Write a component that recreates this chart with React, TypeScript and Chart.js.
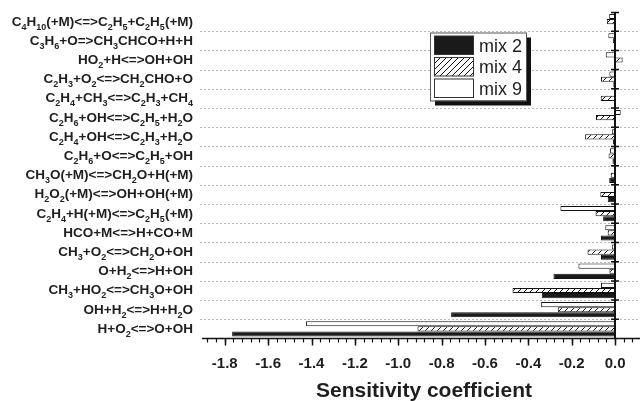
import React, { useEffect, useRef } from "react";
import { Chart, registerables } from "chart.js";

Chart.register(...registerables);

// Reactions, top to bottom ("_n" marks a subscript)
const reactions: string[] = [
  "C_4H_10(+M)<=>C_2H_5+C_2H_5(+M)",
  "C_3H_6+O=>CH_3CHCO+H+H",
  "HO_2+H<=>OH+OH",
  "C_2H_3+O_2<=>CH_2CHO+O",
  "C_2H_4+CH_3<=>C_2H_3+CH_4",
  "C_2H_6+OH<=>C_2H_5+H_2O",
  "C_2H_4+OH<=>C_2H_3+H_2O",
  "C_2H_6+O<=>C_2H_5+OH",
  "CH_3O(+M)<=>CH_2O+H(+M)",
  "H_2O_2(+M)<=>OH+OH(+M)",
  "C_2H_4+H(+M)<=>C_2H_5(+M)",
  "HCO+M<=>H+CO+M",
  "CH_3+O_2<=>CH_2O+OH",
  "O+H_2<=>H+OH",
  "CH_3+HO_2<=>CH_3O+OH",
  "OH+H_2<=>H+H_2O",
  "H+O_2<=>O+OH",
];

const mix2: number[] = [
  -0.004, -0.005, -0.003, -0.008, -0.005, -0.005, -0.01, -0.012, -0.027,
  -0.034, -0.055, -0.065, -0.065, -0.284, -0.338, -0.756, -1.766,
];
const mix4: number[] = [
  -0.038, -0.01, 0.035, -0.065, -0.066, -0.088, -0.138, -0.03, -0.02,
  -0.068, -0.09, -0.034, -0.127, -0.026, -0.473, -0.264, -0.911,
];
const mix9: number[] = [
  -0.027, -0.031, -0.043, -0.026, -0.004, 0.026, -0.015, -0.023, -0.005,
  -0.004, -0.252, -0.045, -0.015, -0.169, -0.065, -0.341, -1.425,
];

const xTickValues: number[] = [-1.8, -1.6, -1.4, -1.2, -1.0, -0.8, -0.6, -0.4, -0.2, 0.0];
const xMin = -1.905;
const xMax = 0.115;
const minorStep = 0.04;
const xTitle = "Sensitivity coefficient";
const legendNames: string[] = ["mix 2", "mix 4", "mix 9"];

const FONT = "'Liberation Sans', Arial, Helvetica, sans-serif";
const TEXT = "#1e1e1e";

function makeHatch(): CanvasPattern | string {
  const c = document.createElement("canvas");
  const s = 6;
  c.width = s;
  c.height = s;
  const g = c.getContext("2d");
  if (!g) return "#888";
  g.fillStyle = "#ffffff";
  g.fillRect(0, 0, s, s);
  g.strokeStyle = "#111111";
  g.lineWidth = 1;
  g.beginPath();
  g.moveTo(0, s);
  g.lineTo(s, 0);
  g.moveTo(-1, 1);
  g.lineTo(1, -1);
  g.moveTo(s - 1, s + 1);
  g.lineTo(s + 1, s - 1);
  g.stroke();
  const p = g.createPattern(c, "repeat");
  return p || "#888";
}

function segments(label: string): { t: string; sub: boolean }[] {
  const out: { t: string; sub: boolean }[] = [];
  const re = /_(\d+)|[^_]+/g;
  let m: RegExpExecArray | null;
  while ((m = re.exec(label)) !== null) {
    if (m[1] !== undefined) out.push({ t: m[1], sub: true });
    else out.push({ t: m[0], sub: false });
  }
  return out;
}

export default function App() {
  const ref = useRef<HTMLCanvasElement | null>(null);

  useEffect(() => {
    const canvas = ref.current;
    if (!canvas) return;
    const hatch = makeHatch();

    const mainFont = `bold 13.5px ${FONT}`;
    const subFont = `bold 9px ${FONT}`;

    const plugin = {
      id: "sensDecor",
      beforeDatasetsDraw(chart: any) {
        const { ctx, scales } = chart;
        const y = scales.y;
        const n = reactions.length;
        ctx.save();
        // dashed gridlines at category boundaries
        ctx.strokeStyle = "#b8b8b8";
        ctx.lineWidth = 1;
        ctx.setLineDash([2, 2]);
        ctx.beginPath();
        for (let k = 1; k < n; k++) {
          const yy = Math.round((y.getPixelForValue(k - 1) + y.getPixelForValue(k)) / 2) + 0.5;
          ctx.moveTo(200, yy);
          ctx.lineTo(chart.width, yy);
        }
        ctx.stroke();
        ctx.setLineDash([]);
        // y labels with subscripts
        ctx.fillStyle = TEXT;
        ctx.textBaseline = "alphabetic";
        ctx.textAlign = "left";
        const rightX = 193;
        for (let i = 0; i < n; i++) {
          const segs = segments(reactions[i]);
          let w = 0;
          for (const s of segs) {
            ctx.font = s.sub ? subFont : mainFont;
            w += ctx.measureText(s.t).width;
          }
          let x = rightX - w;
          const base = y.getPixelForValue(i) + 4;
          for (const s of segs) {
            ctx.font = s.sub ? subFont : mainFont;
            ctx.fillText(s.t, x, s.sub ? base + 4 : base);
            x += ctx.measureText(s.t).width;
          }
        }
        ctx.restore();
      },
      afterDatasetsDraw(chart: any) {
        const { ctx, chartArea, scales } = chart;
        const x = scales.x;
        const y = scales.y;
        const n = reactions.length;
        ctx.save();
        // zero line
        const x0 = Math.round(x.getPixelForValue(0));
        ctx.strokeStyle = "#111111";
        ctx.lineWidth = 2;
        ctx.beginPath();
        ctx.moveTo(x0, chartArea.top);
        ctx.lineTo(x0, chartArea.bottom);
        ctx.stroke();
        // ticks on zero line
        ctx.lineWidth = 1.5;
        ctx.beginPath();
        for (let k = 0; k < n; k++) {
          const yy = k === 0 ? chartArea.top + 0.5 : (y.getPixelForValue(k - 1) + y.getPixelForValue(k)) / 2;
          ctx.moveTo(x0 - 4, yy);
          ctx.lineTo(x0 + 4, yy);
        }
        ctx.stroke();
        // x axis line
        const yb = chartArea.bottom;
        ctx.lineWidth = 1.5;
        ctx.beginPath();
        ctx.moveTo(chartArea.left, yb);
        ctx.lineTo(chartArea.right, yb);
        ctx.stroke();
        // minor ticks
        ctx.lineWidth = 1.2;
        ctx.beginPath();
        for (let v = -1.88; v <= xMax + 1e-9; v += minorStep) {
          const px = Math.round(x.getPixelForValue(v)) + 0.5;
          ctx.moveTo(px, yb);
          ctx.lineTo(px, yb + 4);
        }
        ctx.stroke();
        // major ticks
        ctx.lineWidth = 1.5;
        ctx.beginPath();
        for (const v of xTickValues) {
          const px = Math.round(x.getPixelForValue(v)) + 0.5;
          ctx.moveTo(px, yb);
          ctx.lineTo(px, yb + 7);
        }
        ctx.stroke();
        // tick labels
        ctx.fillStyle = TEXT;
        ctx.font = `bold 15px ${FONT}`;
        ctx.textAlign = "center";
        ctx.textBaseline = "alphabetic";
        for (const v of xTickValues) {
          ctx.fillText(v.toFixed(1), x.getPixelForValue(v), 367.5);
        }
        // title
        ctx.font = `bold 21px ${FONT}`;
        ctx.fillText(xTitle, (chartArea.left + chartArea.right) / 2 + 3, 397);
        ctx.restore();
      },
      afterDraw(chart: any) {
        const { ctx } = chart;
        ctx.save();
        const bx = 430, by = 32.5, bw = 96, bh = 68;
        // shadow
        ctx.fillStyle = "#111111";
        ctx.fillRect(bx + 5, by + 5, bw, bh);
        ctx.fillStyle = "#ffffff";
        ctx.fillRect(bx, by, bw, bh);
        ctx.strokeStyle = "#555555";
        ctx.lineWidth = 1;
        ctx.strokeRect(bx + 0.5, by + 0.5, bw, bh);
        const fills: (string | CanvasPattern)[] = ["#1a1a1a", hatch, "#ffffff"];
        const tops = [36, 57.5, 79];
        for (let i = 0; i < 3; i++) {
          ctx.fillStyle = fills[i];
          ctx.fillRect(434.5, tops[i], 39, 18.5);
          ctx.strokeStyle = "#333333";
          ctx.strokeRect(434.5, tops[i], 39, 18.5);
          ctx.fillStyle = TEXT;
          ctx.font = `18px ${FONT}`;
          ctx.textAlign = "left";
          ctx.textBaseline = "alphabetic";
          ctx.fillText(legendNames[i], 479, tops[i] + 15.5);
        }
        ctx.restore();
      },
    };

    const chart = new Chart(canvas, {
      type: "bar",
      data: {
        labels: reactions,
        datasets: [
          {
            label: legendNames[2],
            data: mix9,
            backgroundColor: "#ffffff",
            borderColor: "#111111",
            borderWidth: 1,
            borderSkipped: false,
          },
          {
            label: legendNames[1],
            data: mix4,
            backgroundColor: hatch as any,
            borderColor: "#111111",
            borderWidth: 1,
            borderSkipped: false,
          },
          {
            label: legendNames[0],
            data: mix2,
            backgroundColor: "#1a1a1a",
            borderColor: "#111111",
            borderWidth: 1,
            borderSkipped: false,
          },
        ],
      },
      options: {
        animation: false,
        responsive: false,
        maintainAspectRatio: false,
        indexAxis: "y",
        devicePixelRatio: 1,
        layout: { padding: { left: 202, right: 0, top: 12, bottom: 62.5 } },
        datasets: { bar: { categoryPercentage: 0.8, barPercentage: 1 } },
        scales: {
          x: { type: "linear", min: xMin, max: xMax, display: false },
          y: { type: "category", display: false, offset: true },
        },
        plugins: { legend: { display: false }, tooltip: { enabled: false } },
      },
      plugins: [plugin],
    } as any);

    return () => chart.destroy();
  }, []);

  return (
    <div style={{ position: "absolute", left: 0, top: 0, width: 640, height: 401, background: "#ffffff" }}>
      <canvas ref={ref} width={640} height={401} style={{ display: "block" }} />
    </div>
  );
}
